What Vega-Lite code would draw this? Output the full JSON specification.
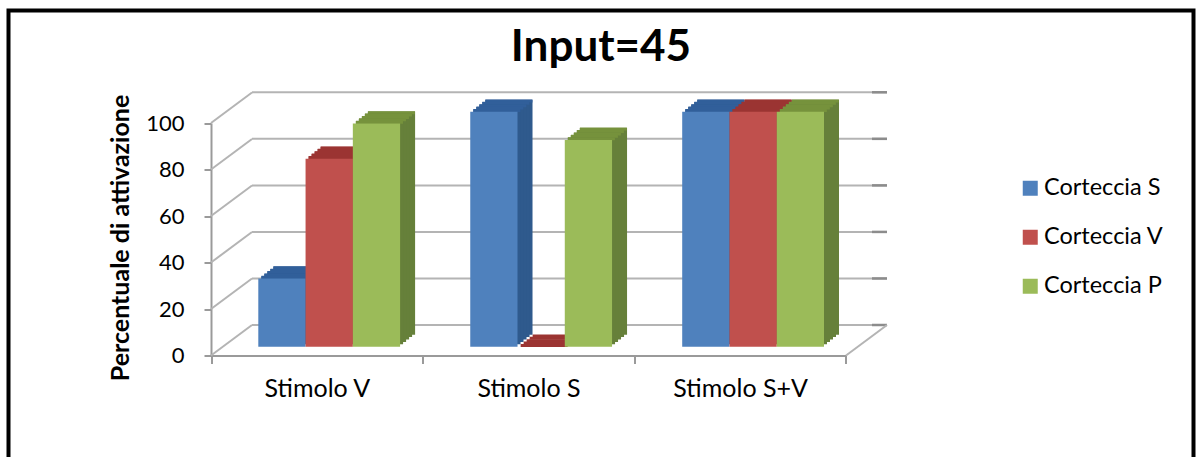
{"$schema":"https://vega.github.io/schema/vega-lite/v6.json","width":1185,"height":450,"autosize":"none","padding":{"left":8.5,"top":10.5,"right":6.5,"bottom":0},"background":"white","view":{"stroke":"#000000","strokeWidth":4,"fill":"white"},
"title":{"text":"Input=45","font":"Lato","fontWeight":"bold","fontSize":44,"color":"#000000","anchor":"middle","frame":"group","orient":"top","offset":-59},
"datasets":{"bars":[
{"stimolo":"Stimolo V","corteccia":"Corteccia S","valore":29},{"stimolo":"Stimolo V","corteccia":"Corteccia V","valore":80},{"stimolo":"Stimolo V","corteccia":"Corteccia P","valore":95},
{"stimolo":"Stimolo S","corteccia":"Corteccia S","valore":100},{"stimolo":"Stimolo S","corteccia":"Corteccia V","valore":0},{"stimolo":"Stimolo S","corteccia":"Corteccia P","valore":88},
{"stimolo":"Stimolo S+V","corteccia":"Corteccia S","valore":100},{"stimolo":"Stimolo S+V","corteccia":"Corteccia V","valore":100},{"stimolo":"Stimolo S+V","corteccia":"Corteccia P","valore":100}],
"griglia":[{"p":0,"retro":13.1},{"p":20,"retro":33.1},{"p":40,"retro":53.1},{"p":60,"retro":73.1},{"p":80,"retro":93.1},{"p":100,"retro":113.1}]},
"resolve":{"scale":{"x":"independent","y":"independent","color":"independent","xOffset":"independent"},"axis":{"x":"independent","y":"independent"}},
"layer":[
{"data":{"name":"griglia"},"mark":{"type":"rule","color":"#b4b4b4","strokeWidth":2},"encoding":{"x":{"datum":0,"type":"quantitative","scale":{"domain":[0,1],"range":[243.5,878.5]},"axis":null},"x2":{"datum":1},"y":{"field":"p","type":"quantitative","scale":{"domain":[0,100],"range":[314.5,81.8]},"axis":null}}},
{"data":{"name":"griglia"},"mark":{"type":"rule","color":"#8c8c8c","strokeWidth":2.5},"encoding":{"x":{"datum":0,"type":"quantitative","scale":{"domain":[0,1],"range":[863.5,878.5]},"axis":null},"x2":{"datum":1},"y":{"field":"p","type":"quantitative","scale":{"domain":[0,100],"range":[314.5,81.8]},"axis":null}}},
{"data":{"name":"griglia"},"transform":[{"filter":"datum.p==0"}],"mark":{"type":"rule","color":"#b4b4b4","strokeWidth":2},"encoding":{"x":{"datum":0,"type":"quantitative","scale":{"domain":[0,1],"range":[837.5,878.5]},"axis":null},"x2":{"datum":1},"y":{"field":"p","type":"quantitative","scale":{"domain":[0,100],"range":[345,112.5]},"axis":null},"y2":{"field":"retro"}}},
{"data":{"name":"griglia"},"mark":{"type":"rule","color":"#b4b4b4","strokeWidth":2},"encoding":{"x":{"datum":0,"type":"quantitative","scale":{"domain":[0,1],"range":[202.5,243.5]},"axis":null},"x2":{"datum":1},"y":{"field":"p","type":"quantitative","scale":{"domain":[0,100],"range":[345,112.5]},"axis":{"orient":"left","offset":-202.5,"values":[0,20,40,60,80,100],"grid":false,"domainColor":"#9a9a9a","domainWidth":2,"tickColor":"#9a9a9a","tickWidth":2,"tickSize":7,"labelFont":"Lato","labelFontSize":22,"labelColor":"#000000","labelPadding":20,"title":"Percentuale di attivazione","titleFont":"Lato","titleFontWeight":"bold","titleFontSize":25,"titleColor":"#000000","titleX":-78,"titleY":227,"titleAlign":"center","titleAngle":270}},"y2":{"field":"retro"}}},
{"data":{"name":"bars"},"mark":{"type":"rule","opacity":0},"encoding":{"x":{"field":"stimolo","type":"nominal","scale":{"domain":["Stimolo V","Stimolo S","Stimolo S+V"],"range":[202.5,837.5],"paddingInner":0,"paddingOuter":0},"axis":{"orient":"bottom","offset":-105,"title":null,"labelAngle":0,"tickBand":"extent","grid":false,"domainColor":"#9a9a9a","domainWidth":2,"tickColor":"#9a9a9a","tickWidth":2,"tickSize":8,"labelFont":"Lato","labelFontSize":25,"labelColor":"#000000","labelPadding":13}}}},

{"data":{"name":"bars"},"mark":{"type":"bar","cornerRadius":0},"encoding":{"x":{"field":"stimolo","type":"nominal","scale":{"domain":["Stimolo V","Stimolo S","Stimolo S+V"],"range":[264.8,830.5],"paddingInner":0.331,"paddingOuter":0},"axis":null},"xOffset":{"field":"corteccia","scale":{"domain":["Corteccia S","Corteccia V","Corteccia P"]}},"y":{"field":"valore","type":"quantitative","scale":{"domain":[0,100],"range":[324.2,89.2]},"axis":null},"y2":{"datum":0},"color":{"field":"corteccia","scale":{"domain":["Corteccia S","Corteccia V","Corteccia P"],"range":["#2f5a8d","#9a3a38","#66803a"]},"legend":null}}},
{"data":{"name":"bars"},"mark":{"type":"tick","size":47,"thickness":3,"opacity":1},"encoding":{"x":{"field":"stimolo","type":"nominal","scale":{"domain":["Stimolo V","Stimolo S","Stimolo S+V"],"range":[264.8,830.5],"paddingInner":0.331,"paddingOuter":0},"axis":null},"xOffset":{"field":"corteccia","scale":{"domain":["Corteccia S","Corteccia V","Corteccia P"]}},"y":{"field":"valore","type":"quantitative","scale":{"domain":[0,100],"range":[325.4,90.4]},"axis":null},"color":{"field":"corteccia","scale":{"domain":["Corteccia S","Corteccia V","Corteccia P"],"range":["#315f9a","#9b3432","#76923c"]},"legend":null}}},

{"data":{"name":"bars"},"mark":{"type":"bar"},"encoding":{"x":{"field":"stimolo","type":"nominal","scale":{"domain":["Stimolo V","Stimolo S","Stimolo S+V"],"range":[261.8,827.5],"paddingInner":0.331,"paddingOuter":0},"axis":null},"xOffset":{"field":"corteccia","scale":{"domain":["Corteccia S","Corteccia V","Corteccia P"]}},"y":{"field":"valore","type":"quantitative","scale":{"domain":[0,100],"range":[326.6,91.6]},"axis":null},"y2":{"datum":0},"color":{"field":"corteccia","scale":{"domain":["Corteccia S","Corteccia V","Corteccia P"],"range":["#2f5a8d","#9a3a38","#66803a"]},"legend":null}}},
{"data":{"name":"bars"},"mark":{"type":"tick","size":47,"thickness":3,"opacity":1},"encoding":{"x":{"field":"stimolo","type":"nominal","scale":{"domain":["Stimolo V","Stimolo S","Stimolo S+V"],"range":[261.8,827.5],"paddingInner":0.331,"paddingOuter":0},"axis":null},"xOffset":{"field":"corteccia","scale":{"domain":["Corteccia S","Corteccia V","Corteccia P"]}},"y":{"field":"valore","type":"quantitative","scale":{"domain":[0,100],"range":[327.8,92.8]},"axis":null},"color":{"field":"corteccia","scale":{"domain":["Corteccia S","Corteccia V","Corteccia P"],"range":["#315f9a","#9b3432","#76923c"]},"legend":null}}},

{"data":{"name":"bars"},"mark":{"type":"bar"},"encoding":{"x":{"field":"stimolo","type":"nominal","scale":{"domain":["Stimolo V","Stimolo S","Stimolo S+V"],"range":[258.8,824.5],"paddingInner":0.331,"paddingOuter":0},"axis":null},"xOffset":{"field":"corteccia","scale":{"domain":["Corteccia S","Corteccia V","Corteccia P"]}},"y":{"field":"valore","type":"quantitative","scale":{"domain":[0,100],"range":[329,94]},"axis":null},"y2":{"datum":0},"color":{"field":"corteccia","scale":{"domain":["Corteccia S","Corteccia V","Corteccia P"],"range":["#2f5a8d","#9a3a38","#66803a"]},"legend":null}}},
{"data":{"name":"bars"},"mark":{"type":"tick","size":47,"thickness":3,"opacity":1},"encoding":{"x":{"field":"stimolo","type":"nominal","scale":{"domain":["Stimolo V","Stimolo S","Stimolo S+V"],"range":[258.8,824.5],"paddingInner":0.331,"paddingOuter":0},"axis":null},"xOffset":{"field":"corteccia","scale":{"domain":["Corteccia S","Corteccia V","Corteccia P"]}},"y":{"field":"valore","type":"quantitative","scale":{"domain":[0,100],"range":[330.2,95.2]},"axis":null},"color":{"field":"corteccia","scale":{"domain":["Corteccia S","Corteccia V","Corteccia P"],"range":["#315f9a","#9b3432","#76923c"]},"legend":null}}},

{"data":{"name":"bars"},"mark":{"type":"bar"},"encoding":{"x":{"field":"stimolo","type":"nominal","scale":{"domain":["Stimolo V","Stimolo S","Stimolo S+V"],"range":[255.8,821.5],"paddingInner":0.331,"paddingOuter":0},"axis":null},"xOffset":{"field":"corteccia","scale":{"domain":["Corteccia S","Corteccia V","Corteccia P"]}},"y":{"field":"valore","type":"quantitative","scale":{"domain":[0,100],"range":[331.4,96.4]},"axis":null},"y2":{"datum":0},"color":{"field":"corteccia","scale":{"domain":["Corteccia S","Corteccia V","Corteccia P"],"range":["#2f5a8d","#9a3a38","#66803a"]},"legend":null}}},
{"data":{"name":"bars"},"mark":{"type":"tick","size":47,"thickness":3,"opacity":1},"encoding":{"x":{"field":"stimolo","type":"nominal","scale":{"domain":["Stimolo V","Stimolo S","Stimolo S+V"],"range":[255.8,821.5],"paddingInner":0.331,"paddingOuter":0},"axis":null},"xOffset":{"field":"corteccia","scale":{"domain":["Corteccia S","Corteccia V","Corteccia P"]}},"y":{"field":"valore","type":"quantitative","scale":{"domain":[0,100],"range":[332.6,97.6]},"axis":null},"color":{"field":"corteccia","scale":{"domain":["Corteccia S","Corteccia V","Corteccia P"],"range":["#315f9a","#9b3432","#76923c"]},"legend":null}}},

{"data":{"name":"bars"},"mark":{"type":"bar"},"encoding":{"x":{"field":"stimolo","type":"nominal","scale":{"domain":["Stimolo V","Stimolo S","Stimolo S+V"],"range":[252.8,818.5],"paddingInner":0.331,"paddingOuter":0},"axis":null},"xOffset":{"field":"corteccia","scale":{"domain":["Corteccia S","Corteccia V","Corteccia P"]}},"y":{"field":"valore","type":"quantitative","scale":{"domain":[0,100],"range":[333.8,98.8]},"axis":null},"y2":{"datum":0},"color":{"field":"corteccia","scale":{"domain":["Corteccia S","Corteccia V","Corteccia P"],"range":["#2f5a8d","#9a3a38","#66803a"]},"legend":null}}},
{"data":{"name":"bars"},"mark":{"type":"tick","size":47,"thickness":3,"opacity":1},"encoding":{"x":{"field":"stimolo","type":"nominal","scale":{"domain":["Stimolo V","Stimolo S","Stimolo S+V"],"range":[252.8,818.5],"paddingInner":0.331,"paddingOuter":0},"axis":null},"xOffset":{"field":"corteccia","scale":{"domain":["Corteccia S","Corteccia V","Corteccia P"]}},"y":{"field":"valore","type":"quantitative","scale":{"domain":[0,100],"range":[335,100]},"axis":null},"color":{"field":"corteccia","scale":{"domain":["Corteccia S","Corteccia V","Corteccia P"],"range":["#315f9a","#9b3432","#76923c"]},"legend":null}}},

{"data":{"name":"bars"},"mark":{"type":"bar"},"encoding":{"x":{"field":"stimolo","type":"nominal","scale":{"domain":["Stimolo V","Stimolo S","Stimolo S+V"],"range":[249.8,815.5],"paddingInner":0.331,"paddingOuter":0},"axis":null},"xOffset":{"field":"corteccia","scale":{"domain":["Corteccia S","Corteccia V","Corteccia P"]}},"y":{"field":"valore","type":"quantitative","scale":{"domain":[0,100],"range":[336.2,101.2]},"axis":null},"y2":{"datum":0},"color":{"field":"corteccia","scale":{"domain":["Corteccia S","Corteccia V","Corteccia P"],"range":["#4f81bd","#c0504d","#9bbb59"]},"legend":{"orient":"none","legendX":1010,"legendY":166,"title":null,"symbolType":"square","symbolSize":225,"symbolStrokeWidth":0,"labelFont":"Lato","labelFontSize":23.5,"labelColor":"#000000","labelOffset":2,"rowPadding":24}}}}
]}
